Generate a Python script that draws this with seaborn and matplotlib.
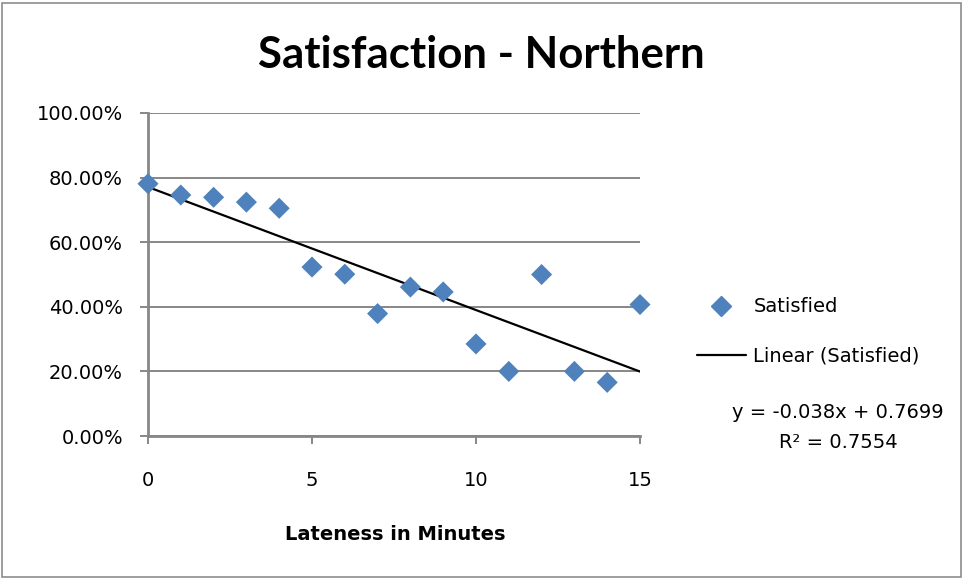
import matplotlib
matplotlib.use("Agg")
import matplotlib.pyplot as plt
import seaborn as sns
import numpy as np
import pandas as pd
from matplotlib.patches import Rectangle
from matplotlib.lines import Line2D

lateness = [0, 1, 2, 3, 4, 5, 6, 7, 8, 9, 10, 11, 12, 13, 14, 15]
satisfied = [0.781, 0.746, 0.739, 0.724, 0.705, 0.523, 0.501, 0.379, 0.461,
             0.446, 0.285, 0.200, 0.500, 0.200, 0.166, 0.407]
y_ticks = [0.0, 0.2, 0.4, 0.6, 0.8, 1.0]
x_ticks = [0, 5, 10, 15]
title = "Satisfaction - Northern"
x_label = "Lateness in Minutes"
series_label = "Satisfied"
trend_label = "Linear (Satisfied)"
equation_line = "y = -0.038x + 0.7699"
r2_line = "R² = 0.7554"

df = pd.DataFrame({"Lateness": lateness, "Satisfied": satisfied})

sns.set_theme(style="white")
FONT = ["DejaVu Sans"]
plt.rcParams["font.family"] = FONT
plt.rcParams["text.color"] = "black"

W, H = 963, 578
fig = plt.figure(figsize=(W / 100, H / 100), dpi=100)
ax = fig.add_axes([148 / W, (H - 436) / H, 492 / W, 323 / H])

blue = "#4F81BD"
grid_c = "#878787"
FS = 14

sns.regplot(data=df, x="Lateness", y="Satisfied", ax=ax, scatter=False, ci=None,
            truncate=True, line_kws=dict(color="black", lw=1.6, zorder=2))
sns.scatterplot(data=df, x="Lateness", y="Satisfied", ax=ax, marker="D", s=115,
                color=blue, edgecolor="none", linewidth=0, zorder=3, legend=False)

ax.set_xlim(0, 15)
ax.set_ylim(0, 1.0)
ax.set_xticks(x_ticks)
ax.set_yticks(y_ticks)
ax.set_xticklabels([str(t) for t in x_ticks])
ax.set_yticklabels([f"{t*100:.2f}%" for t in y_ticks])
ax.yaxis.grid(True, color=grid_c, lw=1.4)
ax.set_axisbelow(True)
for s in ["top", "right"]:
    ax.spines[s].set_visible(False)
for s in ["left", "bottom"]:
    ax.spines[s].set_color(grid_c)
    ax.spines[s].set_linewidth(2)
    ax.spines[s].set_zorder(1)
ax.tick_params(axis="both", which="major", direction="out", length=6, width=1.4,
               color=grid_c, labelsize=FS, labelcolor="black",
               bottom=True, left=True, top=False, right=False)
ax.tick_params(axis="x", pad=19)
ax.tick_params(axis="y", pad=12)
for c in ax.collections:
    c.set_clip_on(False)
ax.set_ylabel("")
ax.set_xlabel(x_label, fontsize=FS, fontweight="bold", color="black")
ax.xaxis.label.set_va("baseline")
ax.xaxis.set_label_coords(0.502, (436 - 540) / 323)

fig.text(481 / W, 1 - 55 / H, title, ha="center", va="center", fontsize=31.5,
         fontweight="bold", family=["Lato", "DejaVu Sans"], color="black")

handles = [Line2D([], [], marker="D", ls="none", color=blue, markersize=10),
           Line2D([], [], color="black", lw=1.6)]
fig.legend(handles, [series_label, trend_label], loc="upper left",
           bbox_to_anchor=(679.5 / W, 1 - 280 / H), frameon=False, fontsize=FS,
           handlelength=2.5, handletextpad=0.4, labelspacing=1.55,
           borderaxespad=0.5, borderpad=0.4)

fig.text(838 / W, 1 - 412 / H, equation_line, ha="center", va="center", fontsize=FS)
fig.text(838 / W, 1 - 442 / H, r2_line, ha="center", va="center", fontsize=FS)

fig.patches.append(Rectangle((1.5 / W, 1.5 / H), (W - 4) / W, (H - 4) / H,
                             transform=fig.transFigure, fill=False,
                             edgecolor="#8c8c8c", lw=1.2))

fig.savefig("out.png", dpi=100)
